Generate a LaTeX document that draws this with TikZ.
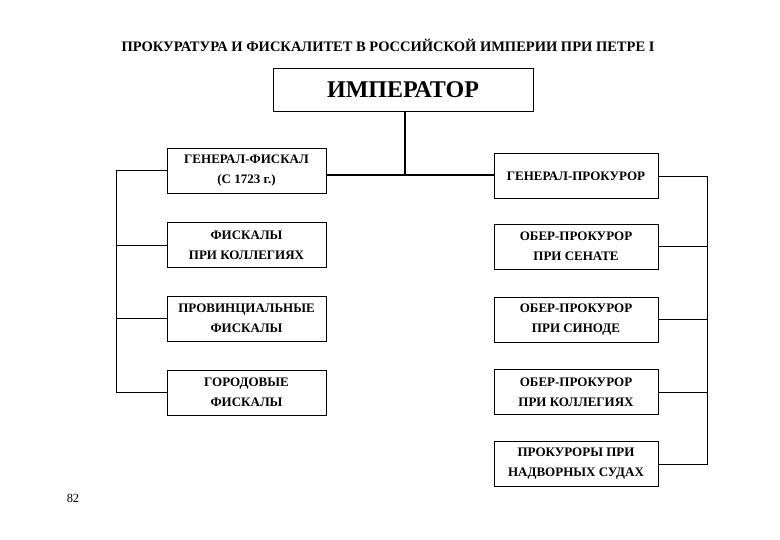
\documentclass[tikz,border=0pt]{standalone}
\usepackage{fontspec}
\setmainfont{Liberation Serif}
\begin{document}
\begin{tikzpicture}[x=1pt,y=-1pt,
  box/.style={draw,line width=0.8pt,minimum width=159pt,minimum height=45pt,align=center,font=\fontsize{13}{20}\selectfont\bfseries},
  rbox/.style={box,minimum width=164pt},
  ln/.style={line width=0.6pt}]
\useasboundingbox (0,0) rectangle (780,540);
\node[font=\fontsize{14.5}{16}\selectfont\bfseries] (title) at (388,45) {ПРОКУРАТУРА И ФИСКАЛИТЕТ В РОССИЙСКОЙ ИМПЕРИИ ПРИ ПЕТРЕ I};
\node[draw,line width=0.8pt,minimum width=260pt,minimum height=43pt,font=\fontsize{24}{26}\selectfont\bfseries] (emp) at (403,89.5) {ИМПЕРАТОР};
\node[box] (l1) at (246.5,170.5) {ГЕНЕРАЛ-ФИСКАЛ\\(С 1723 г.)};
\node[box] (l2) at (246.5,245) {ФИСКАЛЫ\\ПРИ КОЛЛЕГИЯХ};
\node[box] (l3) at (246.5,318.5) {ПРОВИНЦИАЛЬНЫЕ\\ФИСКАЛЫ};
\node[box] (l4) at (246.5,392.5) {ГОРОДОВЫЕ\\ФИСКАЛЫ};
\node[rbox] (r1) at (576,176) {ГЕНЕРАЛ-ПРОКУРОР};
\node[rbox] (r2) at (576,246.5) {ОБЕР-ПРОКУРОР\\ПРИ СЕНАТЕ};
\node[rbox] (r3) at (576,319.5) {ОБЕР-ПРОКУРОР\\ПРИ СИНОДЕ};
\node[rbox] (r4) at (576,392) {ОБЕР-ПРОКУРОР\\ПРИ КОЛЛЕГИЯХ};
\node[rbox] (r5) at (576,464) {ПРОКУРОРЫ ПРИ\\НАДВОРНЫХ СУДАХ};
\node[font=\fontsize{12.5}{14}\selectfont] (pg) at (73,498) {82};
\coordinate (j) at (405,175);
\draw[line width=2pt] (emp.south -| j) -- (j);
\draw[line width=2pt] (l1.east |- j) -- (r1.west |- j);
\coordinate (lt) at (116,170);
\coordinate (lb) at (116,392);
\coordinate (rt) at (707,176);
\coordinate (rb) at (707,464);
\draw[ln] (l1.west |- lt) -- (lt) -- (lb) -- (l4.west |- lb);
\draw[ln] (l2.west) -- (l2.west -| lt);
\draw[ln] (l3.west) -- (l3.west -| lt);
\draw[ln] (r1.east |- rt) -- (rt) -- (rb) -- (r5.east |- rb);
\draw[ln] (r2.east) -- (r2.east -| rt);
\draw[ln] (r3.east) -- (r3.east -| rt);
\draw[ln] (r4.east) -- (r4.east -| rt);
\end{tikzpicture}
\end{document}
